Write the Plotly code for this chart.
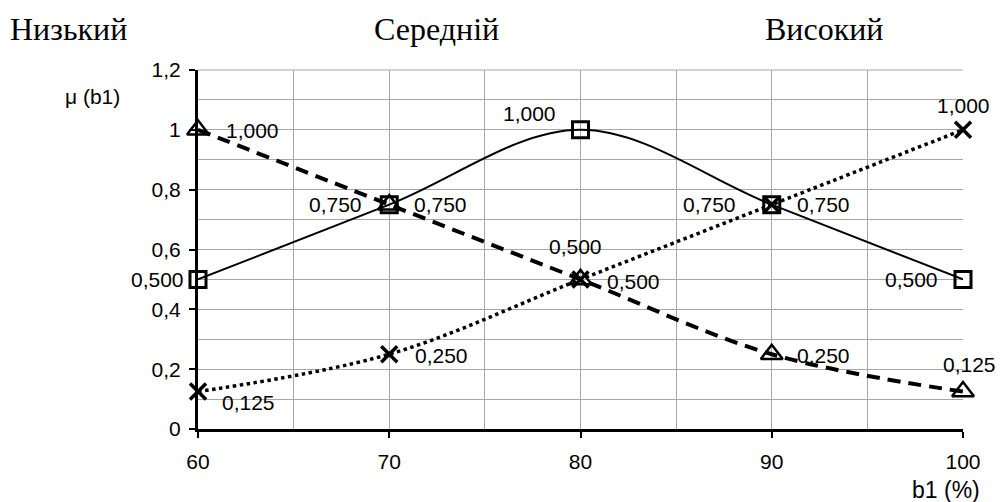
import plotly.graph_objects as go

b1 = [60, 70, 80, 90, 100]
medium = [0.5, 0.75, 1.0, 0.75, 0.5]
low = [1.0, 0.75, 0.5, 0.25, 0.125]
high = [0.125, 0.25, 0.5, 0.75, 1.0]
categories = ["Низький", "Середній", "Високий"]

def fmt(v):
    return f"{v:.3f}".replace(".", ",")

W, H = 996, 494
L, R, T, B = 190, 41, 62, 73
PW, PH = W - L - R, H - T - B
LBL = dict(family="Liberation Sans, Arial", size=21, color="black")

fig = go.Figure()
fig.add_trace(go.Scatter(
    x=b1, y=medium, mode="lines+markers", line=dict(color="black", width=2, shape="spline"),
    marker=dict(symbol="square-open", size=16, color="black", line=dict(width=3)),
    cliponaxis=False, showlegend=False))
fig.add_trace(go.Scatter(
    x=b1, y=low, mode="lines+markers", line=dict(color="black", width=4, shape="spline", dash="13px,8px"),
    marker=dict(symbol="triangle-up-open", size=19, color="black", line=dict(width=2.5)),
    cliponaxis=False, showlegend=False))
fig.add_trace(go.Scatter(
    x=b1, y=high, mode="lines+markers", line=dict(color="black", width=3.5, shape="spline", dash="dot"),
    marker=dict(symbol="x-thin", size=16, color="black", line=dict(width=3.5, color="black")),
    cliponaxis=False, showlegend=False))

# data label placement (anchor, xshift px, yshift px) per point
place_medium = [("right", -12, 0), ("right", -25, 0), ("right", -23, 16), ("right", -34, 0), ("right", -23, 0)]
place_low = [("left", 26, -1), ("left", 23, 0), ("left", 24, -2), ("left", 23, -1), ("center", 6, 27)]
place_high = [("left", 22, -11), ("left", 24, -1), ("center", -5, 33), ("left", 23, 0), ("center", 0, 24)]

for vals, places in [(medium, place_medium), (low, place_low), (high, place_high)]:
    for xv, yv, (anc, dx, dy) in zip(b1, vals, places):
        fig.add_annotation(x=xv, y=yv, xref="x", yref="y", text=fmt(yv), showarrow=False,
                           xanchor=anc, yanchor="middle", xshift=dx, yshift=dy, font=LBL)

grid = "#a6a6a6"
fig.update_layout(
    width=W, height=H, margin=dict(l=L, r=R, t=T, b=B),
    paper_bgcolor="white", plot_bgcolor="white", separators=", ",
    font=dict(family="Liberation Sans, Arial", size=21, color="black"),
    xaxis=dict(range=[60, 100], dtick=10, tick0=60, showgrid=True, gridcolor=grid, gridwidth=1,
               minor=dict(dtick=5, showgrid=True, gridcolor=grid, gridwidth=1),
               showline=True, linecolor="black", linewidth=3, ticks="outside", ticklen=6,
               tickcolor="black", tickwidth=2, ticklabelstandoff=6, zeroline=False,
               tickfont=dict(size=21)),
    yaxis=dict(range=[0, 1.2], dtick=0.2, showgrid=True, gridcolor=grid, gridwidth=1,
               minor=dict(dtick=0.1, showgrid=True, gridcolor=grid, gridwidth=1),
               showline=True, linecolor="black", linewidth=3, ticks="outside", ticklen=6,
               tickcolor="black", tickwidth=2, ticklabelstandoff=4, zeroline=False,
               tickfont=dict(size=21)),
)
fig.add_shape(type="line", xref="paper", yref="paper", x0=0, x1=1, y0=1, y1=1,
              line=dict(color=grid, width=1), layer="below")

def px(fx, fy):
    return (fx - L) / PW, (H - B - fy) / PH

cat_pos = [(60, 21), (428, 21), (816, 21)]
for name, (cx, cy) in zip(categories, cat_pos):
    ax, ay = px(cx, cy)
    fig.add_annotation(text=name, x=ax, y=ay, xref="paper", yref="paper", showarrow=False,
                       xanchor="center", yanchor="middle",
                       font=dict(family="Liberation Serif, Times New Roman", size=32, color="black"))

ax, ay = px(85, 89)
fig.add_annotation(text="μ (b1)", x=ax, y=ay, xref="paper", yref="paper", showarrow=False,
                   xanchor="center", yanchor="middle", font=dict(size=21))
ax, ay = px(938, 482)
fig.add_annotation(text="b1 (%)", x=ax, y=ay, xref="paper", yref="paper", showarrow=False,
                   xanchor="center", yanchor="middle", font=dict(size=23))

fig.write_html("out.html")
